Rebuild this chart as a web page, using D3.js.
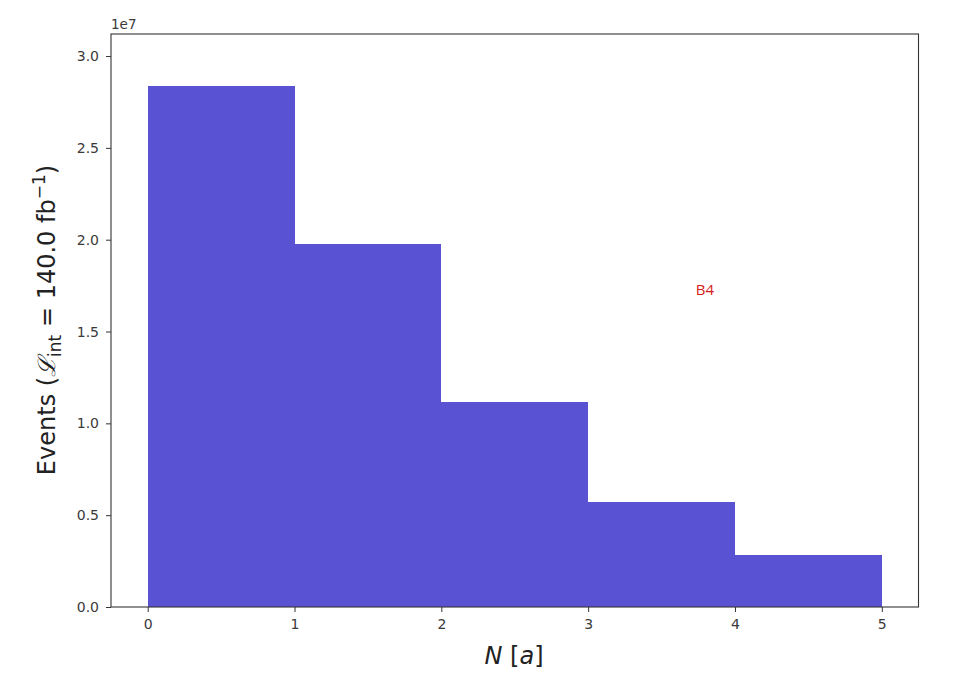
<!DOCTYPE html>
<html><head><meta charset="utf-8">
<script src="https://cdn.jsdelivr.net/npm/d3@7"></script>
<style>body{margin:0;background:#fff}</style>
</head><body>
<svg id="c" width="970" height="692"></svg>
<script>
const binEdges = [0, 1, 2, 3, 4, 5];
const counts = [2.837e7, 1.976e7, 1.118e7, 0.573e7, 0.283e7];
const xTicks = [0, 1, 2, 3, 4, 5];
const yTicks = [0, 0.5e7, 1.0e7, 1.5e7, 2.0e7, 2.5e7, 3.0e7];
const yTickLabels = ["0.0","0.5","1.0","1.5","2.0","2.5","3.0"];

const svg = d3.select("#c");
const L = 111, R = 918.5, T = 34, B = 607;
const x = d3.scaleLinear().domain([-0.25, 5.25]).range([L, R]);
const y = d3.scaleLinear().domain([0, 3.12e7]).range([B, T]);
const font = "DejaVu Sans, sans-serif";

svg.append("g").selectAll("rect").data(counts).join("rect")
  .attr("x", (d,i) => x(binEdges[i]))
  .attr("width", (d,i) => x(binEdges[i+1]) - x(binEdges[i]))
  .attr("y", d => y(d))
  .attr("height", d => y(0) - y(d))
  .attr("fill", "#5953d4")
  .attr("shape-rendering", "crispEdges");

const xa = svg.append("g").attr("transform", `translate(0,${B})`)
  .call(d3.axisBottom(x).tickValues(xTicks).tickFormat(d3.format("d")).tickSize(5).tickPadding(7));
const ya = svg.append("g").attr("transform", `translate(${L},0)`)
  .call(d3.axisLeft(y).tickValues(yTicks).tickFormat((d,i) => yTickLabels[i]).tickSize(5).tickPadding(7));
[xa, ya].forEach(a => {
  a.select(".domain").remove();
  a.selectAll("line").attr("stroke", "#333");
  a.selectAll("text").attr("font-family", font).attr("font-size", 14).attr("fill", "#3a3a3a");
});

svg.append("rect").attr("x", L).attr("y", T).attr("width", R - L).attr("height", B - T)
  .attr("fill", "none").attr("stroke", "#333").attr("stroke-width", 1.1);

svg.append("text").attr("x", L).attr("y", 29).attr("font-family", font)
  .attr("font-size", 13.5).attr("fill", "#3a3a3a").text("1e7");

// y label
const yl = svg.append("text").attr("transform", "translate(55,320) rotate(-90)")
  .attr("text-anchor", "middle").attr("font-family", font).attr("font-size", 24).attr("fill", "#222");
yl.append("tspan").text("Events (");
yl.append("tspan").attr("font-style", "italic").attr("font-family", "DejaVu Serif, serif").text("ℒ");
yl.append("tspan").attr("font-size", 17).attr("dy", 6).text("int");
yl.append("tspan").attr("dy", -6).text(" = 140.0 fb");
yl.append("tspan").attr("font-size", 17).attr("dy", -10).text("−1");
yl.append("tspan").attr("dy", 10).text(")");

// x label
const xl = svg.append("text").attr("x", 514).attr("y", 664)
  .attr("text-anchor", "middle").attr("font-family", font).attr("font-size", 24).attr("fill", "#222");
xl.append("tspan").attr("font-style", "italic").text("N");
xl.append("tspan").text(" [");
xl.append("tspan").attr("font-style", "italic").text("a");
xl.append("tspan").text("]");

svg.append("text").attr("x", 705).attr("y", 295).attr("text-anchor", "middle")
  .attr("font-family", "Open Sans, sans-serif").attr("font-size", 15).attr("fill", "#d42020").text("B4");
</script>
</body></html>
